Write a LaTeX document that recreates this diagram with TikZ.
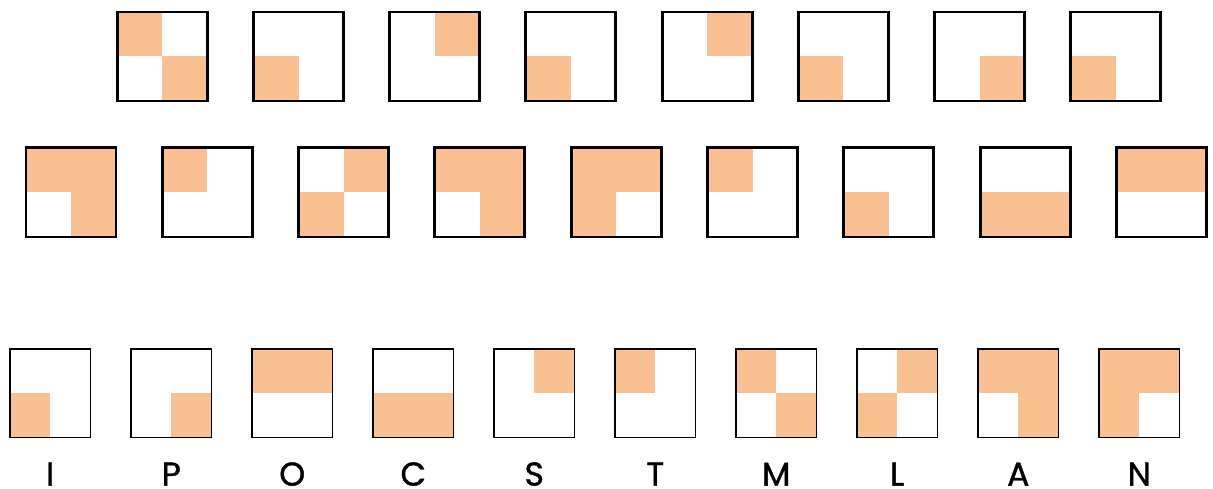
\documentclass[tikz,border=0pt]{standalone}
\usepackage{fontspec}
\setmainfont{Poppins}
\newfontfamily\labfont{Poppins}[FakeBold=1.2]
\definecolor{qorange}{HTML}{F9C191}
\tikzset{
  qfill/.style={fill=qorange},
  qframe/.style={draw=black, fill=none, inner sep=0pt, outer sep=0pt, anchor=north west},
  qlabel/.style={anchor=base, inner sep=0pt, font=\labfont\fontsize{33}{36}\selectfont}
}
% #1 name, #2 left, #3 top, #4 width, #5 height, #6 line width, #7 quadrants i/j
\newcommand\quadbox[7]{%
  \foreach \i/\j in {#7} {
    \fill[qfill] ({#2+\i*#4/2},{#3+\j*#5/2}) rectangle ++({#4/2},{#5/2});
  }
  \node[qframe, line width=#6pt, minimum width=#4pt, minimum height=#5pt] (#1) at (#2,#3) {};
}
\begin{document}
\begin{tikzpicture}[x=1pt,y=-1pt]
\useasboundingbox (0,0) rectangle (1213,489);
% Row 1
\quadbox{ra1}{117.3}{12}{90}{89}{2.9}{0/0,1/1}
\quadbox{ra2}{253.5}{12}{90}{89}{2.9}{0/1}
\quadbox{ra3}{389.7}{12}{90}{89}{2.9}{1/0}
\quadbox{ra4}{525.9}{12}{90}{89}{2.9}{0/1}
\quadbox{ra5}{662.1}{12}{90}{89}{2.9}{1/0}
\quadbox{ra6}{798.3}{12}{90}{89}{2.9}{0/1}
\quadbox{ra7}{934.5}{12}{90}{89}{2.9}{1/1}
\quadbox{ra8}{1070.7}{12}{90}{89}{2.9}{0/1}
% Row 2
\quadbox{rb1}{26}{147.7}{90}{89.3}{2.9}{0/0,1/0,1/1}
\quadbox{rb2}{162.3}{147.7}{90}{89.3}{2.9}{0/0}
\quadbox{rb3}{298.6}{147.7}{90}{89.3}{2.9}{1/0,0/1}
\quadbox{rb4}{434.9}{147.7}{90}{89.3}{2.9}{0/0,1/0,1/1}
\quadbox{rb5}{571.2}{147.7}{90}{89.3}{2.9}{0/0,1/0,0/1}
\quadbox{rb6}{707.5}{147.7}{90}{89.3}{2.9}{0/0}
\quadbox{rb7}{843.8}{147.7}{90}{89.3}{2.9}{0/1}
\quadbox{rb8}{980.1}{147.7}{90}{89.3}{2.9}{0/1,1/1}
\quadbox{rb9}{1116.4}{147.7}{90}{89.3}{2.9}{0/0,1/0}
% Row 3
\quadbox{rcI}{10}{349}{80.5}{88.6}{1.7}{0/1}
\quadbox{rcP}{131}{349}{80.5}{88.6}{1.7}{1/1}
\quadbox{rcO}{252}{349}{80.5}{88.6}{1.7}{0/0,1/0}
\quadbox{rcC}{373}{349}{80.5}{88.6}{1.7}{0/1,1/1}
\quadbox{rcS}{494}{349}{80.5}{88.6}{1.7}{1/0}
\quadbox{rcT}{615}{349}{80.5}{88.6}{1.7}{0/0}
\quadbox{rcM}{736}{349}{80.5}{88.6}{1.7}{0/0,1/1}
\quadbox{rcL}{857}{349}{80.5}{88.6}{1.7}{1/0,0/1}
\quadbox{rcA}{978}{349}{80.5}{88.6}{1.7}{0/0,1/0,1/1}
\quadbox{rcN}{1099}{349}{80.5}{88.6}{1.7}{0/0,1/0,0/1}
% Labels
\foreach \n/\t in {rcI/I,rcP/P,rcO/O,rcC/C,rcS/S,rcT/T,rcM/M,rcL/L,rcA/A,rcN/N} {
  \path (\n.south) ++(0,48) node[qlabel] (lab\n) {\t};
}
\end{tikzpicture}
\end{document}
